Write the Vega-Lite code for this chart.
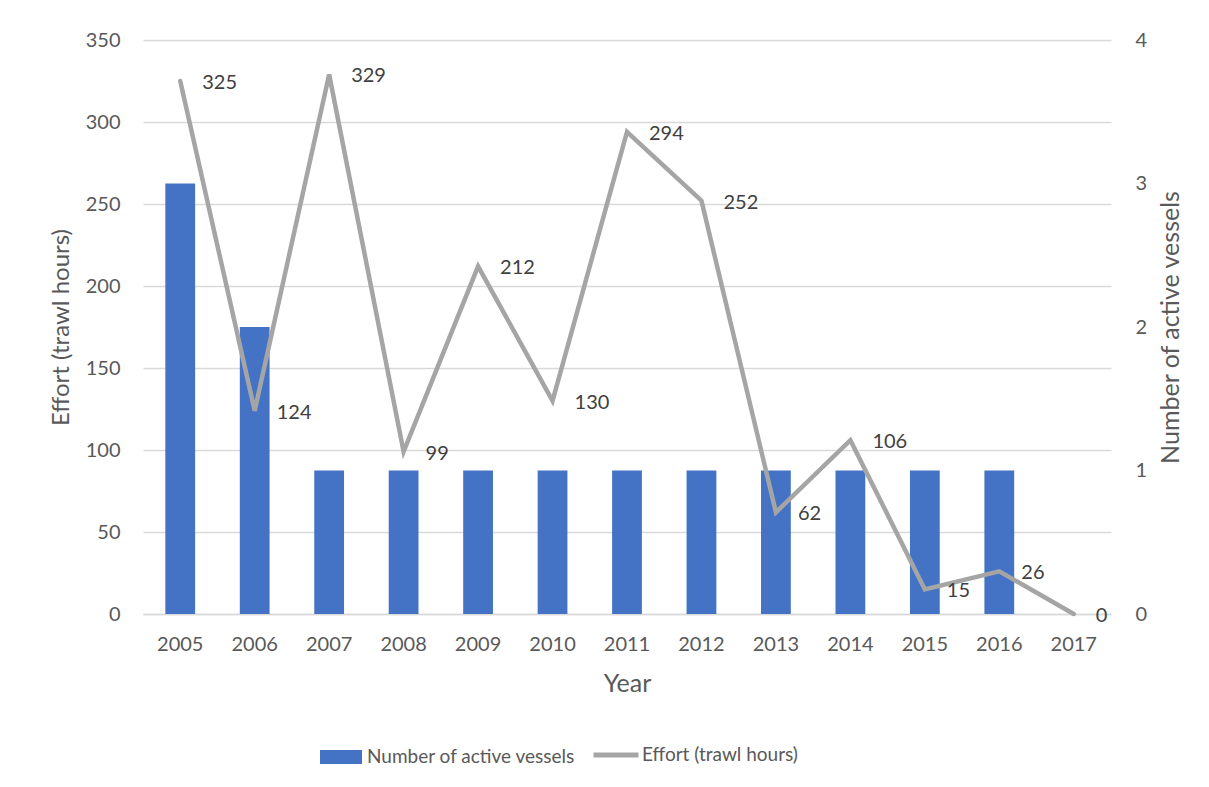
{
  "$schema": "https://vega.github.io/schema/vega-lite/v6.json",
  "width": 968,
  "height": 574,
  "autosize": {"type": "none"},
  "padding": {"left": 143, "top": 40, "right": 98, "bottom": 173},
  "background": "white",
  "config": {
    "view": {"stroke": null},
    "font": "Lato",
    "axis": {
      "labelFont": "Lato",
      "titleFont": "Lato",
      "labelFontSize": 20,
      "titleFontSize": 25,
      "labelColor": "#595959",
      "titleColor": "#595959",
      "titleFontWeight": "normal",
      "ticks": false,
      "domain": false,
      "gridColor": "#D9D9D9",
      "gridWidth": 1.5
    },
    "legend": {
      "labelFont": "Lato",
      "labelFontSize": 19,
      "labelColor": "#595959",
      "labelLimit": 400
    }
  },
  "data": {
    "values": [
      {"Year": "2005", "Vessels": 3, "Effort": 325},
      {"Year": "2006", "Vessels": 2, "Effort": 124},
      {"Year": "2007", "Vessels": 1, "Effort": 329},
      {"Year": "2008", "Vessels": 1, "Effort": 99},
      {"Year": "2009", "Vessels": 1, "Effort": 212},
      {"Year": "2010", "Vessels": 1, "Effort": 130},
      {"Year": "2011", "Vessels": 1, "Effort": 294},
      {"Year": "2012", "Vessels": 1, "Effort": 252},
      {"Year": "2013", "Vessels": 1, "Effort": 62},
      {"Year": "2014", "Vessels": 1, "Effort": 106},
      {"Year": "2015", "Vessels": 1, "Effort": 15},
      {"Year": "2016", "Vessels": 1, "Effort": 26},
      {"Year": "2017", "Vessels": 0, "Effort": 0}
    ]
  },
  "encoding": {
    "x": {
      "field": "Year",
      "type": "ordinal",
      "scale": {"paddingInner": 0.6, "paddingOuter": 0.3},
      "axis": {
        "title": "Year",
        "titleFontSize": 25,
        "labelAngle": 0,
        "labelPadding": 20,
        "titlePadding": 17,
        "domain": true,
        "domainColor": "#D9D9D9",
        "domainWidth": 1.5
      }
    }
  },
  "layer": [
    {
      "mark": {"type": "bar"},
      "encoding": {
        "y": {
          "field": "Vessels",
          "type": "quantitative",
          "scale": {"domain": [0, 4], "nice": false},
          "axis": {
            "orient": "right",
            "title": "Number of active vessels",
            "titleFontSize": 25,
            "titleAngle": 270,
            "titleBaseline": "top",
            "grid": false,
            "values": [0, 1, 2, 3, 4],
            "labelPadding": 24,
            "titlePadding": 12
          }
        },
        "fill": {
          "datum": "Number of active vessels",
          "type": "nominal",
          "scale": {"range": ["#4472C4"]},
          "legend": {
            "title": null,
            "orient": "none",
            "legendX": 177,
            "legendY": 696,
            "symbolType": "M-1,-0.333H1V0.333H-1Z",
            "symbolSize": 1764,
            "symbolStrokeWidth": 0,
            "labelOffset": 5
          }
        }
      }
    },
    {
      "encoding": {
        "y": {
          "field": "Effort",
          "type": "quantitative",
          "scale": {"domain": [0, 350], "nice": false},
          "axis": {
            "orient": "left",
            "title": "Effort (trawl hours)",
            "titleFontSize": 24,
            "grid": true,
            "values": [0, 50, 100, 150, 200, 250, 300, 350],
            "labelPadding": 23,
            "titlePadding": 12
          }
        }
      },
      "layer": [
        {
          "mark": {"type": "line", "strokeWidth": 4.5, "strokeCap": "round", "strokeJoin": "miter"},
          "encoding": {
            "stroke": {
              "datum": "Effort (trawl hours)",
              "type": "nominal",
              "scale": {"range": ["#A5A5A5"]},
              "legend": {
                "title": null,
                "orient": "none",
                "legendX": 448,
                "legendY": 690,
                "symbolType": "stroke",
                "symbolSize": 2025,
                "symbolStrokeWidth": 5,
                "labelOffset": 1
              }
            }
          }
        },
        {
          "mark": {"type": "text", "align": "left", "baseline": "middle", "dx": 22, "dy": 2, "fontSize": 20, "color": "#404040"},
          "encoding": {
            "text": {"field": "Effort", "type": "quantitative"}
          }
        }
      ]
    }
  ],
  "resolve": {"scale": {"y": "independent", "fill": "independent", "stroke": "independent"}}
}
